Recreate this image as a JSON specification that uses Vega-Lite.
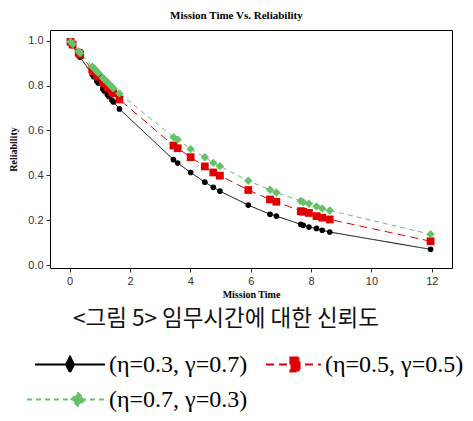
{
  "$schema": "https://vega.github.io/schema/vega-lite/v6.json",
  "autosize": {"type": "none"},
  "padding": {"left": 50, "top": 30, "right": 21, "bottom": 153},
  "width": 402,
  "height": 238,
  "background": "white",
  "title": {
    "text": "Mission Time Vs. Reliability",
    "font": "Liberation Serif",
    "fontSize": 11,
    "fontWeight": "bold",
    "color": "#000",
    "anchor": "middle",
    "frame": "bounds",
    "offset": 9
  },
  "config": {
    "view": {"stroke": "#000", "strokeWidth": 1},
    "axis": {
      "grid": false,
      "domain": false,
      "tickColor": "#333",
      "tickSize": 4,
      "labelFont": "Liberation Sans",
      "labelFontSize": 11,
      "labelColor": "#333",
      "titleFont": "Liberation Serif",
      "titleFontSize": 10,
      "titleFontWeight": "bold",
      "titleColor": "#000"
    },
    "legend": {
      "orient": "none",
      "legendX": -12,
      "legendY": 278,
      "direction": "horizontal",
      "columns": 2,
      "titleFont": "Noto Sans CJK KR",
      "titleFontSize": 22.5,
      "titleFontWeight": "normal",
      "titleColor": "#111",
      "titlePadding": 22,
      "titleLimit": 600,
      "labelFont": "Liberation Serif",
      "labelFontSize": 24,
      "labelColor": "#000",
      "labelLimit": 300,
      "labelOffset": 21,
      "labelExpr": "replace(datum.label, ', ', ',\u2002\u2002')",
      "columnPadding": 6,
      "rowPadding": 11,
      "symbolSize": 400,
      "symbolOffset": 26,
      "symbolStrokeWidth": 2.2,
      "symbolOpacity": 1
    }
  },
  "datasets": {
    "rel": [
      {"t": 0.03, "R": 0.993, "s": "(η=0.3, γ=0.7)"},
      {"t": 0.1, "R": 0.978, "s": "(η=0.3, γ=0.7)"},
      {"t": 0.3, "R": 0.936, "s": "(η=0.3, γ=0.7)"},
      {"t": 0.35, "R": 0.926, "s": "(η=0.3, γ=0.7)"},
      {"t": 0.75, "R": 0.848, "s": "(η=0.3, γ=0.7)"},
      {"t": 0.8, "R": 0.839, "s": "(η=0.3, γ=0.7)"},
      {"t": 0.9, "R": 0.82, "s": "(η=0.3, γ=0.7)"},
      {"t": 0.95, "R": 0.811, "s": "(η=0.3, γ=0.7)"},
      {"t": 1.1, "R": 0.785, "s": "(η=0.3, γ=0.7)"},
      {"t": 1.15, "R": 0.776, "s": "(η=0.3, γ=0.7)"},
      {"t": 1.25, "R": 0.76, "s": "(η=0.3, γ=0.7)"},
      {"t": 1.3, "R": 0.751, "s": "(η=0.3, γ=0.7)"},
      {"t": 1.4, "R": 0.735, "s": "(η=0.3, γ=0.7)"},
      {"t": 1.45, "R": 0.727, "s": "(η=0.3, γ=0.7)"},
      {"t": 1.65, "R": 0.696, "s": "(η=0.3, γ=0.7)"},
      {"t": 3.44, "R": 0.47, "s": "(η=0.3, γ=0.7)"},
      {"t": 3.58, "R": 0.455, "s": "(η=0.3, γ=0.7)"},
      {"t": 4.01, "R": 0.413, "s": "(η=0.3, γ=0.7)"},
      {"t": 4.48, "R": 0.37, "s": "(η=0.3, γ=0.7)"},
      {"t": 4.76, "R": 0.347, "s": "(η=0.3, γ=0.7)"},
      {"t": 4.98, "R": 0.33, "s": "(η=0.3, γ=0.7)"},
      {"t": 5.92, "R": 0.268, "s": "(η=0.3, γ=0.7)"},
      {"t": 6.64, "R": 0.227, "s": "(η=0.3, γ=0.7)"},
      {"t": 6.85, "R": 0.219, "s": "(η=0.3, γ=0.7)"},
      {"t": 7.66, "R": 0.182, "s": "(η=0.3, γ=0.7)"},
      {"t": 7.74, "R": 0.178, "s": "(η=0.3, γ=0.7)"},
      {"t": 7.93, "R": 0.17, "s": "(η=0.3, γ=0.7)"},
      {"t": 8.18, "R": 0.164, "s": "(η=0.3, γ=0.7)"},
      {"t": 8.37, "R": 0.156, "s": "(η=0.3, γ=0.7)"},
      {"t": 8.62, "R": 0.148, "s": "(η=0.3, γ=0.7)"},
      {"t": 11.96, "R": 0.071, "s": "(η=0.3, γ=0.7)"},

      {"t": 0.03, "R": 0.994, "s": "(η=0.5, γ=0.5)"},
      {"t": 0.1, "R": 0.982, "s": "(η=0.5, γ=0.5)"},
      {"t": 0.3, "R": 0.946, "s": "(η=0.5, γ=0.5)"},
      {"t": 0.35, "R": 0.938, "s": "(η=0.5, γ=0.5)"},
      {"t": 0.75, "R": 0.871, "s": "(η=0.5, γ=0.5)"},
      {"t": 0.8, "R": 0.863, "s": "(η=0.5, γ=0.5)"},
      {"t": 0.9, "R": 0.847, "s": "(η=0.5, γ=0.5)"},
      {"t": 0.95, "R": 0.839, "s": "(η=0.5, γ=0.5)"},
      {"t": 1.1, "R": 0.817, "s": "(η=0.5, γ=0.5)"},
      {"t": 1.15, "R": 0.809, "s": "(η=0.5, γ=0.5)"},
      {"t": 1.25, "R": 0.794, "s": "(η=0.5, γ=0.5)"},
      {"t": 1.3, "R": 0.787, "s": "(η=0.5, γ=0.5)"},
      {"t": 1.4, "R": 0.773, "s": "(η=0.5, γ=0.5)"},
      {"t": 1.45, "R": 0.766, "s": "(η=0.5, γ=0.5)"},
      {"t": 1.65, "R": 0.738, "s": "(η=0.5, γ=0.5)"},
      {"t": 3.44, "R": 0.533, "s": "(η=0.5, γ=0.5)"},
      {"t": 3.58, "R": 0.521, "s": "(η=0.5, γ=0.5)"},
      {"t": 4.01, "R": 0.481, "s": "(η=0.5, γ=0.5)"},
      {"t": 4.48, "R": 0.44, "s": "(η=0.5, γ=0.5)"},
      {"t": 4.76, "R": 0.413, "s": "(η=0.5, γ=0.5)"},
      {"t": 4.98, "R": 0.399, "s": "(η=0.5, γ=0.5)"},
      {"t": 5.92, "R": 0.335, "s": "(η=0.5, γ=0.5)"},
      {"t": 6.64, "R": 0.293, "s": "(η=0.5, γ=0.5)"},
      {"t": 6.85, "R": 0.283, "s": "(η=0.5, γ=0.5)"},
      {"t": 7.66, "R": 0.241, "s": "(η=0.5, γ=0.5)"},
      {"t": 7.74, "R": 0.238, "s": "(η=0.5, γ=0.5)"},
      {"t": 7.93, "R": 0.233, "s": "(η=0.5, γ=0.5)"},
      {"t": 8.18, "R": 0.219, "s": "(η=0.5, γ=0.5)"},
      {"t": 8.37, "R": 0.212, "s": "(η=0.5, γ=0.5)"},
      {"t": 8.62, "R": 0.204, "s": "(η=0.5, γ=0.5)"},
      {"t": 11.96, "R": 0.107, "s": "(η=0.5, γ=0.5)"},

      {"t": 0.03, "R": 0.995, "s": "(η=0.7, γ=0.3)"},
      {"t": 0.1, "R": 0.984, "s": "(η=0.7, γ=0.3)"},
      {"t": 0.3, "R": 0.952, "s": "(η=0.7, γ=0.3)"},
      {"t": 0.35, "R": 0.944, "s": "(η=0.7, γ=0.3)"},
      {"t": 0.75, "R": 0.884, "s": "(η=0.7, γ=0.3)"},
      {"t": 0.8, "R": 0.877, "s": "(η=0.7, γ=0.3)"},
      {"t": 0.9, "R": 0.863, "s": "(η=0.7, γ=0.3)"},
      {"t": 0.95, "R": 0.856, "s": "(η=0.7, γ=0.3)"},
      {"t": 1.1, "R": 0.835, "s": "(η=0.7, γ=0.3)"},
      {"t": 1.15, "R": 0.828, "s": "(η=0.7, γ=0.3)"},
      {"t": 1.25, "R": 0.815, "s": "(η=0.7, γ=0.3)"},
      {"t": 1.3, "R": 0.808, "s": "(η=0.7, γ=0.3)"},
      {"t": 1.4, "R": 0.795, "s": "(η=0.7, γ=0.3)"},
      {"t": 1.45, "R": 0.788, "s": "(η=0.7, γ=0.3)"},
      {"t": 1.65, "R": 0.765, "s": "(η=0.7, γ=0.3)"},
      {"t": 3.44, "R": 0.57, "s": "(η=0.7, γ=0.3)"},
      {"t": 3.58, "R": 0.56, "s": "(η=0.7, γ=0.3)"},
      {"t": 4.01, "R": 0.517, "s": "(η=0.7, γ=0.3)"},
      {"t": 4.48, "R": 0.481, "s": "(η=0.7, γ=0.3)"},
      {"t": 4.76, "R": 0.456, "s": "(η=0.7, γ=0.3)"},
      {"t": 4.98, "R": 0.441, "s": "(η=0.7, γ=0.3)"},
      {"t": 5.92, "R": 0.376, "s": "(η=0.7, γ=0.3)"},
      {"t": 6.64, "R": 0.336, "s": "(η=0.7, γ=0.3)"},
      {"t": 6.85, "R": 0.324, "s": "(η=0.7, γ=0.3)"},
      {"t": 7.66, "R": 0.286, "s": "(η=0.7, γ=0.3)"},
      {"t": 7.74, "R": 0.281, "s": "(η=0.7, γ=0.3)"},
      {"t": 7.93, "R": 0.274, "s": "(η=0.7, γ=0.3)"},
      {"t": 8.18, "R": 0.262, "s": "(η=0.7, γ=0.3)"},
      {"t": 8.37, "R": 0.253, "s": "(η=0.7, γ=0.3)"},
      {"t": 8.62, "R": 0.244, "s": "(η=0.7, γ=0.3)"},
      {"t": 11.96, "R": 0.138, "s": "(η=0.7, γ=0.3)"}
    ]
  },
  "data": {"name": "rel"},
  "encoding": {
    "x": {
      "field": "t", "type": "quantitative",
      "scale": {"domain": [-0.65, 12.67], "nice": false, "zero": false},
      "axis": {"values": [0, 2, 4, 6, 8, 10, 12], "title": "Mission Time", "labelPadding": 3, "titlePadding": 3}
    },
    "y": {
      "field": "R", "type": "quantitative",
      "scale": {"domain": [-0.012, 1.047], "nice": false, "zero": false},
      "axis": {"values": [0, 0.2, 0.4, 0.6, 0.8, 1.0], "format": ".1f", "title": "Reliability", "labelPadding": 3, "titlePadding": 9}
    }
  },
  "layer": [
    {
      "mark": {"type": "line", "strokeWidth": 1},
      "encoding": {
        "stroke": {
          "field": "s", "type": "nominal",
          "scale": {"domain": ["(η=0.3, γ=0.7)", "(η=0.5, γ=0.5)", "(η=0.7, γ=0.3)"], "range": ["#000000", "#e00000", "#66c266"]},
          "legend": {"title": "<그림 5> 임무시간에 대한 신뢰도", "encode": {"title": {"update": {"dx": {"value": 35}}}}}
        },
        "strokeDash": {
          "field": "s", "type": "nominal",
          "scale": {"domain": ["(η=0.3, γ=0.7)", "(η=0.5, γ=0.5)", "(η=0.7, γ=0.3)"], "range": [[1, 0], [8, 5], [5, 4]]},
          "legend": {"title": "<그림 5> 임무시간에 대한 신뢰도", "encode": {"title": {"update": {"dx": {"value": 35}}}}}
        }
      }
    },
    {
      "transform": [{"filter": "datum.s == '(η=0.3, γ=0.7)'"}],
      "mark": {"type": "point", "shape": "circle", "filled": true, "opacity": 1, "size": 32, "color": "#000000"}
    },
    {
      "transform": [{"filter": "datum.s == '(η=0.5, γ=0.5)'"}],
      "mark": {"type": "point", "shape": "square", "filled": true, "opacity": 1, "size": 60, "color": "#e00000"}
    },
    {
      "transform": [{"filter": "datum.s == '(η=0.7, γ=0.3)'"}],
      "mark": {"type": "point", "shape": "diamond", "filled": true, "opacity": 1, "size": 70, "color": "#66c266"}
    },
    {
      "mark": {"type": "point", "filled": true, "opacity": 0, "size": 1},
      "encoding": {
        "fill": {
          "field": "s", "type": "nominal",
          "scale": {"domain": ["(η=0.3, γ=0.7)", "(η=0.5, γ=0.5)", "(η=0.7, γ=0.3)"], "range": ["#000000", "#e00000", "#66c266"]},
          "legend": {"title": "<그림 5> 임무시간에 대한 신뢰도", "encode": {"title": {"update": {"dx": {"value": 35}}}}}
        },
        "stroke": {"field": "s", "type": "nominal"},
        "strokeDash": {"field": "s", "type": "nominal"},
        "shape": {
          "field": "s", "type": "nominal",
          "scale": {
            "domain": ["(η=0.3, γ=0.7)", "(η=0.5, γ=0.5)", "(η=0.7, γ=0.3)"],
            "range": [
              "M-4.1,0H2.9M-0.6,-0.75L-0.2,0L-0.6,0.75L-1.0,0Z",
              "M-2.6,0H2.9M-0.15,-0.7H0.75V0.7H-0.15Z",
              "M-4.9,0H3.2M0.2,-0.65L0.85,0L0.2,0.65L-0.45,0Z"
            ]
          },
          "legend": {"title": "<그림 5> 임무시간에 대한 신뢰도", "encode": {"title": {"update": {"dx": {"value": 35}}}}}
        }
      }
    }
  ]
}
